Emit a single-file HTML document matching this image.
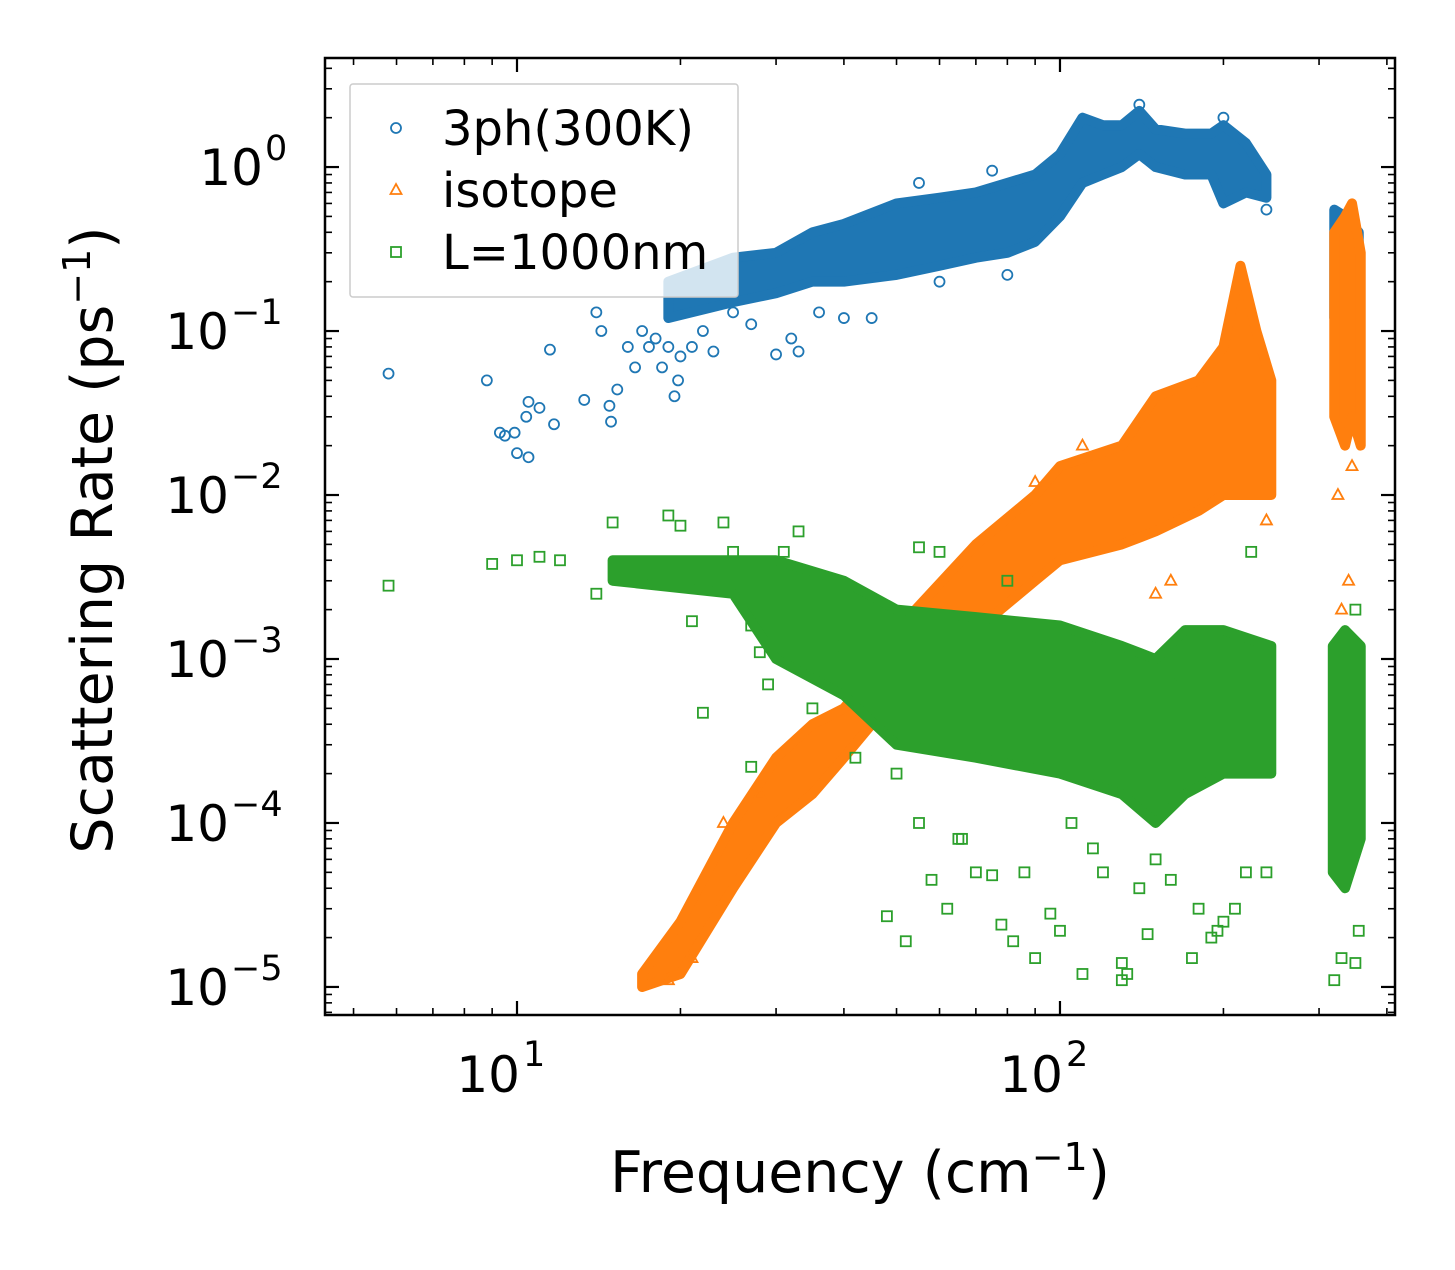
<!DOCTYPE html>
<html><head><meta charset="utf-8"><style>
html,body{margin:0;padding:0;background:#fff;}
svg text{font-family:"DejaVu Sans","Liberation Sans",sans-serif;fill:#000;}
</style></head><body>
<svg id="chart" width="1455" height="1265" xmlns="http://www.w3.org/2000/svg">
<g id="bands"></g>
<g id="pts"></g>
<g id="axes"></g>
</svg>
<script>
const xTickVals=[10,100];
const xTickLabels=["1","2"];
const yTickVals=[1,0.1,0.01,0.001,0.0001,0.00001];
const yTickLabels=["0","\u22121","\u22122","\u22123","\u22124","\u22125"];
// dense bands: [x, low, high]
const blueBand=[[19,0.12,0.2],[25,0.15,0.28],[30,0.17,0.3],[35,0.2,0.4],[40,0.2,0.45],[50,0.22,0.6],[60,0.25,0.65],[70,0.28,0.7],[80,0.3,0.8],[90,0.35,0.9],[100,0.5,1.2],[110,0.8,2.0],[120,0.9,1.8],[130,1.0,1.8],[140,1.2,2.2],[150,1.0,1.7],[170,0.9,1.6],[190,0.9,1.6],[200,0.6,1.8],[220,0.7,1.4],[240,0.65,0.9]];
const blueBand2=[[320,0.12,0.55],[335,0.1,0.5],[355,0.12,0.4]];
const orangeBand=[[17,1e-5,1.2e-5],[20,1.2e-5,2.5e-5],[25,4e-5,1e-4],[30,1e-4,2.5e-4],[35,1.5e-4,4e-4],[40,2.5e-4,5e-4],[45,4e-4,8e-4],[50,7e-4,1.5e-3],[70,1.5e-3,5e-3],[90,3e-3,1e-2],[100,4e-3,1.5e-2],[130,5e-3,2e-2],[150,6e-3,4e-2],[180,8e-3,5e-2],[200,1e-2,8e-2],[215,1e-2,0.25],[230,1e-2,0.1],[245,1e-2,0.05]];
const orangeBand2=[[320,0.03,0.4],[335,0.02,0.5],[345,0.03,0.6],[358,0.02,0.3]];
const greenBand=[[15,3e-3,4e-3],[25,2.5e-3,4e-3],[30,1e-3,4e-3],[40,6e-4,3e-3],[50,3e-4,2e-3],[70,2.5e-4,1.8e-3],[100,2e-4,1.6e-3],[130,1.5e-4,1.2e-3],[150,1e-4,1e-3],[170,1.5e-4,1.5e-3],[200,2e-4,1.5e-3],[245,2e-4,1.2e-3]];
const greenBand2=[[318,5e-5,1.2e-3],[335,4e-5,1.5e-3],[358,8e-5,1.2e-3]];
const bluePts=[[5.8,0.055],[8.8,0.05],[9.3,0.024],[9.5,0.023],[9.9,0.024],[10,0.018],[10.4,0.03],[10.5,0.037],[10.5,0.017],[11,0.034],[11.5,0.077],[11.7,0.027],[13.3,0.038],[14,0.13],[14.3,0.1],[14.8,0.035],[14.9,0.028],[15.3,0.044],[16,0.08],[16.5,0.06],[17,0.1],[17.5,0.08],[18,0.09],[18.5,0.06],[19,0.08],[19.5,0.04],[19.8,0.05],[20,0.07],[21,0.08],[22,0.1],[23,0.075],[25,0.13],[27,0.11],[30,0.072],[32,0.09],[33,0.075],[36,0.13],[40,0.12],[45,0.12],[60,0.2],[80,0.22],[75,0.95],[55,0.8],[140,2.4],[200,2.0],[240,0.55]];
const orangePts=[[24,1e-4],[28,1.5e-4],[21,1.5e-5],[19,1.1e-5],[330,2e-3],[340,3e-3],[325,0.01],[345,0.015],[240,0.007],[160,0.003],[150,0.0025],[110,0.02],[90,0.012]];
const greenPts=[[5.8,0.0028],[9,0.0038],[10,0.004],[11,0.0042],[12,0.004],[14,0.0025],[15,0.0068],[19,0.0075],[20,0.0065],[21,0.0017],[24,0.0068],[25,0.0045],[27,0.0016],[29,0.0007],[30,0.0016],[22,0.00047],[27,0.00022],[28,0.0011],[31,0.0045],[33,0.006],[35,0.0005],[40,0.0012],[42,0.00025],[48,0.000027],[50,0.0002],[52,0.000019],[55,0.0001],[58,0.000045],[62,0.00003],[66,0.00008],[70,0.00005],[75,0.000048],[78,0.000024],[82,0.000019],[86,0.00005],[90,0.000015],[96,0.000028],[100,0.000022],[110,0.000012],[115,0.00007],[120,0.00005],[130,0.000011],[130,0.000014],[133,0.000012],[140,0.00004],[145,0.000021],[160,0.000045],[175,0.000015],[180,0.00003],[190,0.00002],[195,0.000022],[200,0.000025],[210,0.00003],[220,0.00005],[240,0.00005],[320,0.000011],[330,0.000015],[350,0.000014],[355,0.000022],[225,0.0045],[160,0.0008],[80,0.003],[60,0.0045],[55,0.0048],[65,0.00008],[105,0.0001],[150,0.00006],[350,0.002]];

const L=325,R=1395,T=58,B=1015;
const lxmin=Math.log10(4.43),lxmax=Math.log10(414),lymin=-5.171,lymax=0.665;
const sx=v=>L+(Math.log10(v)-lxmin)/(lxmax-lxmin)*(R-L);
const sy=v=>B-(Math.log10(v)-lymin)/(lymax-lymin)*(B-T);
const NS="http://www.w3.org/2000/svg";
function mk(tag,attrs,parent){const e=document.createElementNS(NS,tag);for(const k in attrs)e.setAttribute(k,attrs[k]);parent.appendChild(e);return e;}
const bands=document.getElementById('bands'),pts=document.getElementById('pts'),axes=document.getElementById('axes');
const C={b:'#1f77b4',o:'#ff7f0e',g:'#2ca02c'};
function band(arr,col,name){
  const top=arr.map(d=>sx(d[0])+','+sy(d[2]));
  const bot=arr.slice().reverse().map(d=>sx(d[0])+','+sy(d[1]));
  const p=mk('polygon',{points:top.concat(bot).join(' '),fill:col,stroke:col,'stroke-width':10,'stroke-linejoin':'round'},bands);
  
  
}
function marker(type,x,y,col,parent){
  let e;
  if(type==='o') e=mk('circle',{cx:x,cy:y,r:5,fill:'none',stroke:col,'stroke-width':1.8},parent);
  else if(type==='t') e=mk('polygon',{points:`${x},${y-6} ${x-5.5},${y+4} ${x+5.5},${y+4}`,fill:'none',stroke:col,'stroke-width':1.8},parent);
  else e=mk('rect',{x:x-5,y:y-5,width:10,height:10,fill:'none',stroke:col,'stroke-width':1.8},parent);
  return e;
}
function series(arr,type,col,name){
  arr.forEach(d=>{const e=marker(type,sx(d[0]),sy(d[1]),col,pts);
    
    });
}
band(blueBand,C.b,'band-3ph');band(blueBand2,C.b,'band-3ph-high');series(bluePts,'o',C.b,'point-3ph');
band(orangeBand,C.o,'band-isotope');band(orangeBand2,C.o,'band-isotope-high');series(orangePts,'t',C.o,'point-isotope');
band(greenBand,C.g,'band-boundary');band(greenBand2,C.g,'band-boundary-high');series(greenPts,'s',C.g,'point-boundary');

const fr=mk('rect',{x:L,y:T,width:R-L,height:B-T,fill:'none',stroke:'#000','stroke-width':2.5},axes);

for(let d=0;d<=2;d++)for(let m=1;m<10;m++){const v=m*Math.pow(10,d);if(v<4.43||v>414)continue;
  const x=sx(v),len=m===1?14:7,w=m===1?2.2:1.6;
  const t1=mk('line',{x1:x,y1:B,x2:x,y2:B-len,stroke:'#000','stroke-width':w},axes);
  
  mk('line',{x1:x,y1:T,x2:x,y2:T+len,stroke:'#000','stroke-width':w},axes);}
xTickVals.forEach((v,i)=>{const t=mk('text',{x:sx(v)+3,y:1092,'font-size':50,'text-anchor':'end'},axes);
  t.textContent='10';
  const s=mk('text',{x:sx(v)+6,y:1066,'font-size':35,'text-anchor':'start'},axes);s.textContent=xTickLabels[i];});
for(let d=-6;d<=0;d++)for(let m=1;m<10;m++){const v=m*Math.pow(10,d);const lv=Math.log10(v);if(lv<lymin||lv>lymax)continue;
  const y=sy(v),len=m===1?14:7,w=m===1?2.2:1.6;
  const t1=mk('line',{x1:L,y1:y,x2:L+len,y2:y,stroke:'#000','stroke-width':w},axes);
  
  mk('line',{x1:R,y1:y,x2:R-len,y2:y,stroke:'#000','stroke-width':w},axes);}
yTickVals.forEach((v,i)=>{const y=sy(v);const neg=yTickLabels[i].length>1;
  const t=mk('text',{x:neg?229:263,y:y+18,'font-size':50,'text-anchor':'end'},axes);
  t.textContent='10';
  const s=mk('text',{x:neg?231:265,y:y-7,'font-size':35,'text-anchor':'start'},axes);s.textContent=yTickLabels[i];});
const xt=mk('text',{x:860,y:1192,'font-size':57,'text-anchor':'middle'},axes);
xt.innerHTML='Frequency (cm<tspan dy="-22" font-size="38">\u22121</tspan><tspan dy="22">)</tspan>';

const yt=mk('text',{x:0,y:0,'font-size':57,'text-anchor':'middle',transform:'translate(112,540) rotate(-90)'},axes);
yt.innerHTML='Scattering Rate (ps<tspan dy="-22" font-size="38">\u22121</tspan><tspan dy="22">)</tspan>';

const lg=mk('g',{},axes);
mk('rect',{x:350,y:84,width:388,height:213,fill:'#fff','fill-opacity':0.8,stroke:'#ccc','stroke-width':1.5,rx:3},lg);
const items=[['o',C.b,'3ph(300K)'],['t',C.o,'isotope'],['s',C.g,'L=1000nm']];
items.forEach((it,i)=>{const y=128+i*62;const e=marker(it[0],396,y,it[1],lg);
  
  const t=mk('text',{x:442,y:y+17,'font-size':48},lg);t.textContent=it[2];
  });
</script>
</body></html>
